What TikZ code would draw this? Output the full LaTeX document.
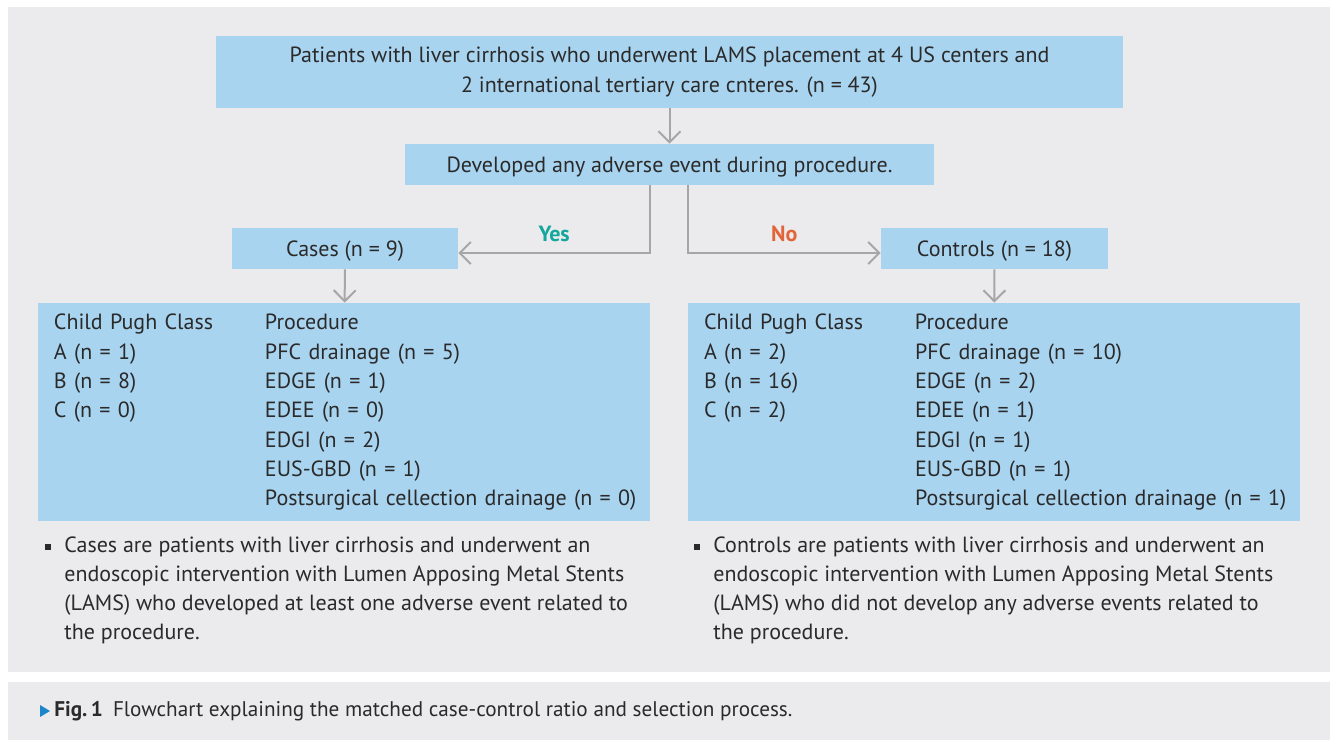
\documentclass[tikz,border=0pt]{standalone}
\usepackage{fontspec}
\setmainfont{PT Sans}
\usetikzlibrary{arrows.meta}

\definecolor{panelgray}{HTML}{EBEBED}
\definecolor{boxblue}{HTML}{A9D4F0}
\definecolor{linegray}{HTML}{A6A6A8}
\definecolor{textdark}{HTML}{2A2A2A}
\definecolor{yesteal}{HTML}{14A79D}
\definecolor{noorange}{HTML}{E2653A}
\definecolor{figblue}{HTML}{1B86C9}

\newcommand{\notebullet}{\llap{\raisebox{1.2pt}{\rule{3pt}{3pt}}\hspace{6.5pt}}}

\begin{document}
\begin{tikzpicture}[x=.5pt,y=-.5pt, font=\fontsize{11}{14.65}\selectfont,
    oneline/.style={text height=8.5pt, text depth=1pt}]

        \useasboundingbox (0,0) rectangle (1330,740);
        \fill[panelgray] (8,7) rectangle (1330,672);
        \fill[panelgray] (8,682) rectangle (1330,740);

        \begin{scope}[every node/.style={fill=boxblue, text=textdark, inner sep=0pt, minimum height=20.5pt, align=center}]
          \node[minimum width=453.5pt, minimum height=36pt, yshift=0pt] (all) at (669.5,72)
            {Patients with liver cirrhosis who underwent LAMS placement at 4 US centers and\\
             2 international tertiary care cnteres. (n = 43)};
          \node[oneline, minimum width=264.5pt] (event) at (669.5,164.5) {Developed any adverse event during procedure.};
          \node[oneline, minimum width=113pt] (cases) at (345,248.5) {Cases (n = 9)};
          \node[oneline, minimum width=113.5pt] (controls) at (994.5,248.5) {Controls (n = 18)};
          \node[minimum width=306pt, minimum height=109pt, text width=290pt, align=left] (casebox) at (344,412)
            {\begin{tabular}{@{}p{105.5pt}@{}l@{}}
               Child Pugh Class & Procedure\\
               A (n = 1) & PFC drainage (n = 5)\\
               B (n = 8) & EDGE (n = 1)\\
               C (n = 0) & EDEE (n = 0)\\
                         & EDGI (n = 2)\\
                         & EUS-GBD (n = 1)\\
                         & Postsurgical cellection drainage (n = 0)
             \end{tabular}};
          \node[minimum width=306pt, minimum height=109pt, text width=290pt, align=left] (controlbox) at (994,412)
            {\begin{tabular}{@{}p{105.5pt}@{}l@{}}
               Child Pugh Class & Procedure\\
               A (n = 2) & PFC drainage (n = 10)\\
               B (n = 16) & EDGE (n = 2)\\
               C (n = 2) & EDEE (n = 1)\\
                         & EDGI (n = 1)\\
                         & EUS-GBD (n = 1)\\
                         & Postsurgical cellection drainage (n = 1)
             \end{tabular}};
        \end{scope}

        \begin{scope}[every node/.style={text=textdark, inner sep=0pt, align=left, anchor=north west}]
          \node (casenote) at (64,536)
            {\notebullet Cases are patients with liver cirrhosis and underwent an\\
             endoscopic intervention with Lumen Apposing Metal Stents\\
             (LAMS) who developed at least one adverse event related to\\
             the procedure.};
          \node (controlnote) at (713,536)
            {\notebullet Controls are patients with liver cirrhosis and underwent an\\
             endoscopic intervention with Lumen Apposing Metal Stents\\
             (LAMS) who did not develop any adverse events related to\\
             the procedure.};
          \node[anchor=west, font=\fontsize{10.6}{12}\selectfont] (caption) at (54,711)
            {\textbf{Fig.\,1}\hspace{5pt}Flowchart explaining the matched case-control ratio and selection process.};
        \end{scope}
        \fill[figblue] (40,705) -- (50,711) -- (40,717) -- cycle;

        \begin{scope}[every path/.style={draw=linegray, line width=1pt, -{Straight Barb[length=5.5pt,width=11pt]}}]
          \path (all) edge (event);
          \path (cases) edge (casebox);
          \path (controls) edge (controlbox);
          \draw ([xshift=-9.75pt]event.south) |- ([yshift=-2.25pt]cases.east)
            node[pos=.75, anchor=base, yshift=6pt, text=yesteal, font=\fontsize{11}{12}\bfseries] (yes) {Yes};
          \draw ([xshift=9.25pt]event.south) |- ([yshift=-2.25pt]controls.west)
            node[pos=.75, anchor=base, yshift=6pt, text=noorange, font=\fontsize{11}{12}\bfseries] (no) {No};
        \end{scope}

      \end{tikzpicture}
\end{document}
